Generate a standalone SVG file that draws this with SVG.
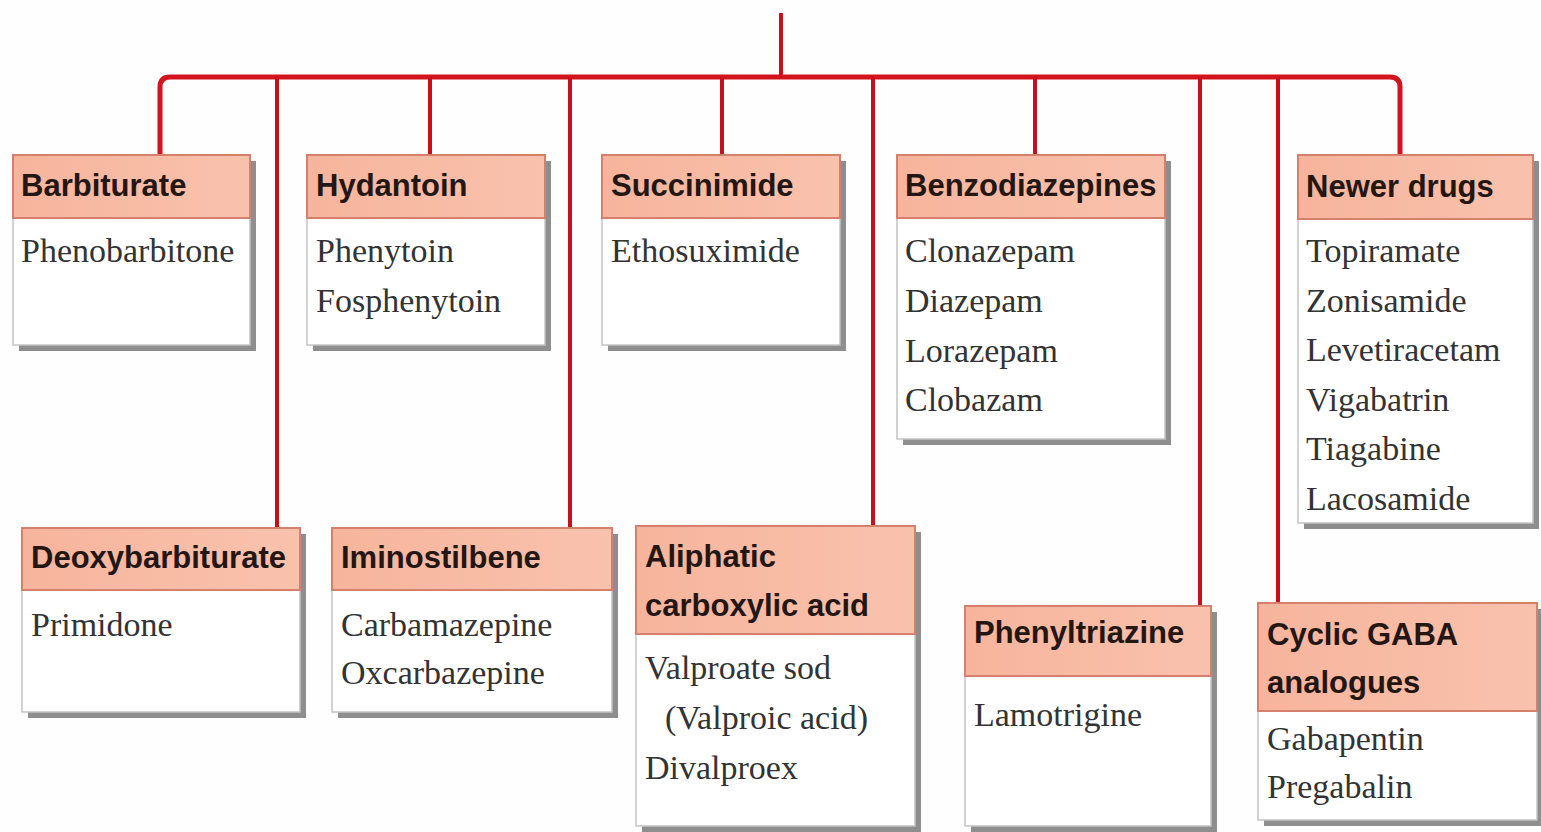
<svg xmlns="http://www.w3.org/2000/svg" width="1541" height="832" viewBox="0 0 1541 832">
<defs>
<linearGradient id="hg" x1="0" y1="0" x2="1" y2="0">
<stop offset="0" stop-color="#f7b49c"/>
<stop offset="1" stop-color="#f9c2ad"/>
</linearGradient>
</defs>
<style>
.sh{fill:#8e8e8e}
.bd{fill:#ffffff;stroke:#c4c4c4;stroke-width:1.5}
.hd{fill:url(#hg);stroke:#d4806c;stroke-width:2}
.ht{font-family:"Liberation Sans",Arial,sans-serif;font-weight:bold;font-size:31px;fill:#241612}
.bt{font-family:"Liberation Serif","Times New Roman",serif;font-size:34px;fill:#333333}
.cn{fill:none;stroke:#d3141f;stroke-width:5;stroke-linejoin:round}
.dr{fill:none;stroke:#c8101c;stroke-width:4}
</style>
<rect width="1541" height="832" fill="#fefefe"/>
<g id="connectors">
<line class="dr" x1="781" y1="13" x2="781" y2="77" stroke="#b81020"/>
<path class="cn" d="M160 155 V87 Q160 77 170 77 H1390 Q1400 77 1400 87 V155"/>
<line class="dr" x1="277" y1="77" x2="277" y2="528"/>
<line class="dr" x1="430" y1="77" x2="430" y2="155"/>
<line class="dr" x1="570" y1="77" x2="570" y2="528"/>
<line class="dr" x1="722" y1="77" x2="722" y2="155"/>
<line class="dr" x1="873" y1="77" x2="873" y2="526"/>
<line class="dr" x1="1035" y1="77" x2="1035" y2="155"/>
<line class="dr" x1="1200" y1="77" x2="1200" y2="606"/>
<line class="dr" x1="1278" y1="77" x2="1278" y2="603"/>
</g>
<g id="barbiturate">
<rect class="sh" x="19" y="161" width="237" height="190"/>
<rect class="bd" x="13" y="155" width="237" height="190"/>
<rect class="hd" x="13" y="155" width="237" height="63"/>
<text class="ht" x="21" y="196">Barbiturate</text>
<text class="bt" x="21" y="262">Phenobarbitone</text>
</g>
<g id="hydantoin">
<rect class="sh" x="313" y="161" width="238" height="190"/>
<rect class="bd" x="307" y="155" width="238" height="190"/>
<rect class="hd" x="307" y="155" width="238" height="63"/>
<text class="ht" x="316" y="196">Hydantoin</text>
<text class="bt" x="316" y="262">Phenytoin</text>
<text class="bt" x="316" y="312">Fosphenytoin</text>
</g>
<g id="succinimide">
<rect class="sh" x="608" y="161" width="238" height="190"/>
<rect class="bd" x="602" y="155" width="238" height="190"/>
<rect class="hd" x="602" y="155" width="238" height="63"/>
<text class="ht" x="611" y="196">Succinimide</text>
<text class="bt" x="611" y="262">Ethosuximide</text>
</g>
<g id="benzodiazepines">
<rect class="sh" x="903" y="161" width="268" height="284"/>
<rect class="bd" x="897" y="155" width="268" height="284"/>
<rect class="hd" x="897" y="155" width="268" height="63"/>
<text class="ht" x="905" y="196">Benzodiazepines</text>
<text class="bt" x="905" y="262">Clonazepam</text>
<text class="bt" x="905" y="312">Diazepam</text>
<text class="bt" x="905" y="362">Lorazepam</text>
<text class="bt" x="905" y="411">Clobazam</text>
</g>
<g id="newer-drugs">
<rect class="sh" x="1304" y="161" width="235" height="368"/>
<rect class="bd" x="1298" y="155" width="235" height="368"/>
<rect class="hd" x="1298" y="155" width="235" height="64"/>
<text class="ht" x="1306" y="197">Newer drugs</text>
<text class="bt" x="1306" y="262">Topiramate</text>
<text class="bt" x="1306" y="312">Zonisamide</text>
<text class="bt" x="1306" y="361">Levetiracetam</text>
<text class="bt" x="1306" y="411">Vigabatrin</text>
<text class="bt" x="1306" y="460">Tiagabine</text>
<text class="bt" x="1306" y="510">Lacosamide</text>
</g>
<g id="deoxybarbiturate">
<rect class="sh" x="28" y="534" width="278" height="184"/>
<rect class="bd" x="22" y="528" width="278" height="184"/>
<rect class="hd" x="22" y="528" width="278" height="62"/>
<text class="ht" x="31" y="568">Deoxybarbiturate</text>
<text class="bt" x="31" y="636">Primidone</text>
</g>
<g id="iminostilbene">
<rect class="sh" x="338" y="534" width="280" height="184"/>
<rect class="bd" x="332" y="528" width="280" height="184"/>
<rect class="hd" x="332" y="528" width="280" height="62"/>
<text class="ht" x="341" y="568">Iminostilbene</text>
<text class="bt" x="341" y="636">Carbamazepine</text>
<text class="bt" x="341" y="684">Oxcarbazepine</text>
</g>
<g id="aliphatic-carboxylic-acid">
<rect class="sh" x="642" y="532" width="279" height="300"/>
<rect class="bd" x="636" y="526" width="279" height="300"/>
<rect class="hd" x="636" y="526" width="279" height="108"/>
<text class="ht" x="645" y="567">Aliphatic</text>
<text class="ht" x="645" y="616">carboxylic acid</text>
<text class="bt" x="645" y="679">Valproate sod</text>
<text class="bt" x="665" y="729">(Valproic acid)</text>
<text class="bt" x="645" y="779">Divalproex</text>
</g>
<g id="phenyltriazine">
<rect class="sh" x="971" y="612" width="246" height="220"/>
<rect class="bd" x="965" y="606" width="246" height="220"/>
<rect class="hd" x="965" y="606" width="246" height="70"/>
<text class="ht" x="974" y="643">Phenyltriazine</text>
<text class="bt" x="974" y="726">Lamotrigine</text>
</g>
<g id="cyclic-gaba-analogues">
<rect class="sh" x="1264" y="609" width="279" height="217"/>
<rect class="bd" x="1258" y="603" width="279" height="217"/>
<rect class="hd" x="1258" y="603" width="279" height="108"/>
<text class="ht" x="1267" y="645">Cyclic GABA</text>
<text class="ht" x="1267" y="693">analogues</text>
<text class="bt" x="1267" y="750">Gabapentin</text>
<text class="bt" x="1267" y="798">Pregabalin</text>
</g>
</svg>
